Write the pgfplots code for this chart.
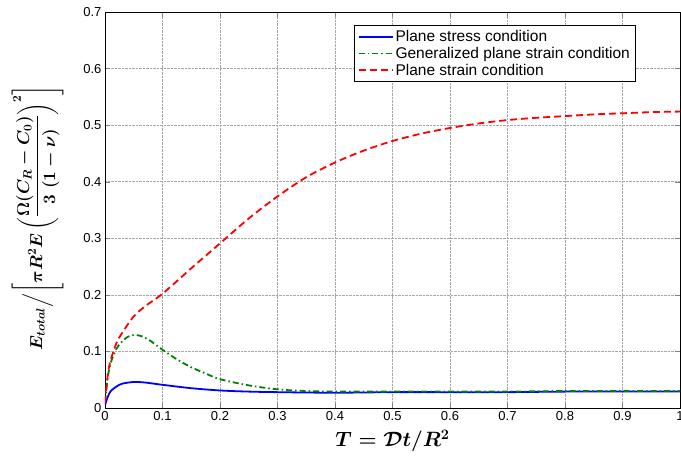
\documentclass[border=0pt]{standalone}
\usepackage{amsmath}
\usepackage{fontspec}
\setmainfont{Liberation Sans}
\usepackage{pgfplots}
\pgfplotsset{compat=1.18}
\begin{document}
\begin{tikzpicture}
\useasboundingbox (-105pt,-51pt) rectangle (576pt,408pt);
\begin{axis}[
  at={(0pt,0pt)}, anchor=south west,
  scale only axis, width=575pt, height=396pt,
  xmin=0, xmax=1, ymin=0, ymax=0.7,
  xtick={0,0.1,...,1}, ytick={0,0.1,...,0.7},
  xticklabels={0,0.1,0.2,0.3,0.4,0.5,0.6,0.7,0.8,0.9,1},
  yticklabels={0,0.1,0.2,0.3,0.4,0.5,0.6,0.7},
  tick label style={font=\fontsize{13}{15}\selectfont},
  /pgf/number format/assume math mode=true,
  tick align=inside, tick pos=both,
  major tick length=5pt,
  grid=major,
  grid style={densely dotted, gray!70, line width=0.6pt},
  axis line style={black, line width=0.6pt},
  xlabel={$T=\mathcal{D}t/R^2$},
  xlabel style={font=\boldmath\fontsize{20}{24}\selectfont, at={(axis description cs:0.5,-0.083)}, anchor=center},
  ylabel={$E_{total}\Big/\!\left[\pi R^2 E\left(\dfrac{\Omega(C_R-C_0)}{3\;(1-\nu)}\right)^{2}\right]$},
  ylabel style={font=\boldmath\fontsize{18.5}{22}\selectfont, at={(axis description cs:-0.117,0.48)}, anchor=center},
  legend style={at={(0.922,0.967)}, anchor=north east, draw=black, line width=0.5pt,
    font=\fontsize{15.5}{18}\selectfont, row sep=0pt, inner sep=3pt},
  legend cell align=left,
  legend image code/.code={\draw[#1, line width=1.8pt] (0pt,0pt) -- (34pt,0pt);},
]
\addplot[blue, line width=1.8pt, smooth] coordinates {
(0,0.005) (0.005,0.02) (0.01,0.03) (0.02,0.038) (0.03,0.043) (0.05,0.046) (0.07,0.045) (0.1,0.041) (0.15,0.035) (0.2,0.031) (0.25,0.029) (0.3,0.028) (0.4,0.027) (0.5,0.028) (0.6,0.028) (0.7,0.028) (0.8,0.029) (0.9,0.029) (1,0.029)};
\addlegendentry{Plane stress condition}
\addplot[green!50!black, line width=1.8pt, dash pattern=on 6pt off 3pt on 1.5pt off 3pt, smooth] coordinates {
(0,0.01) (0.005,0.055) (0.01,0.08) (0.02,0.105) (0.03,0.118) (0.04,0.126) (0.05,0.129) (0.06,0.128) (0.07,0.124) (0.08,0.118) (0.1,0.103) (0.125,0.086) (0.15,0.072) (0.175,0.061) (0.2,0.051) (0.25,0.04) (0.3,0.033) (0.35,0.03) (0.4,0.029) (0.5,0.029) (0.6,0.029) (0.7,0.029) (0.8,0.03) (0.9,0.03) (1,0.03)};
\addlegendentry{Generalized plane strain condition}
\addplot[red, line width=1.8pt, dash pattern=on 7pt off 4pt, smooth] coordinates {
(0,0.01) (0.005,0.06) (0.01,0.085) (0.02,0.115) (0.03,0.133) (0.05,0.162) (0.07,0.18) (0.1,0.202) (0.15,0.247) (0.2,0.291) (0.25,0.335) (0.3,0.374) (0.35,0.408) (0.4,0.434) (0.45,0.455) (0.5,0.472) (0.55,0.485) (0.6,0.495) (0.65,0.503) (0.7,0.509) (0.75,0.513) (0.8,0.516) (0.85,0.519) (0.9,0.521) (0.95,0.523) (1,0.524)};
\addlegendentry{Plane strain condition}
\end{axis}
\end{tikzpicture}
\end{document}
